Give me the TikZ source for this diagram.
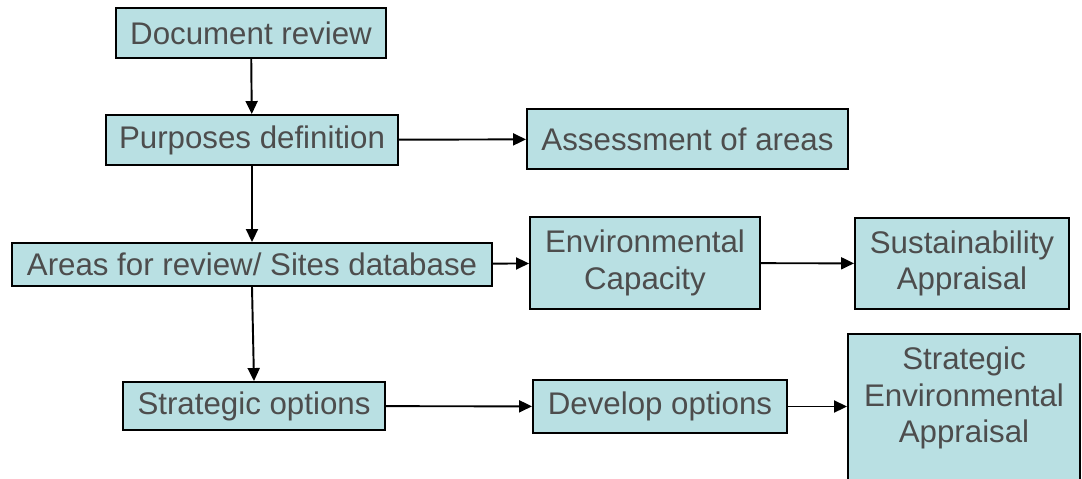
\documentclass[tikz,border=0pt]{standalone}
\usepackage{fontspec}
\setmainfont{Liberation Sans}
\usetikzlibrary{arrows.meta}
\definecolor{boxFill}{RGB}{185,224,227}
\definecolor{boxText}{RGB}{77,77,77}

\begin{document}
\begin{tikzpicture}[x=0.02cm, y=-0.02cm,
    font=\fontsize{17.8}{20.8}\selectfont,
    box/.style={draw, line width=1.1pt, fill=boxFill, text=boxText,
      inner sep=0pt, align=center},
    flow/.style={line width=1.1pt, -{Triangle[length=0.26cm, width=0.24cm]}}]

  % Page frame
  \useasboundingbox (0,0) rectangle (1082,478);
  \clip (0,0) rectangle (1082,478);

  % Boxes (centres in pixels of the original)
  \node[box, minimum width=270*0.02cm, minimum height=50*0.02cm] (doc) at (251,33) {Document review};
  \node[box, minimum width=292*0.02cm, minimum height=50*0.02cm] (purp) at (252,140) {Purposes definition};
  \node[box, minimum width=321*0.02cm, minimum height=60*0.02cm] (assess) at (687.5,139) {Assessment of areas};
  \node[box, minimum width=480*0.02cm, minimum height=43*0.02cm] (areas) at (252,264.5) {Areas for review/ Sites database};
  \node[box, minimum width=230*0.02cm, minimum height=92*0.02cm] (envcap) at (645,263) {Environmental\\Capacity};
  \node[box, minimum width=214*0.02cm, minimum height=91*0.02cm] (sust) at (962,263.5) {Sustainability\\Appraisal};
  \node[box, minimum width=262*0.02cm, minimum height=48*0.02cm] (strat) at (254,406) {Strategic options};
  \node[box, minimum width=254*0.02cm, minimum height=53*0.02cm] (dev) at (660,406.5) {Develop options};

  % Tall box running off the bottom, text at its top
  \node[box, minimum width=232*0.02cm, minimum height=170*0.02cm, anchor=north] (sea) at (964,333) {};
  \node[text=boxText, align=center, anchor=north] (seatext) at ([yshift=-0.16cm]sea.north) {Strategic\\Environmental\\Appraisal};

  % Arrows
  \draw[flow] (doc) -- (purp);
  \draw[flow] (purp) -- (areas);
  \draw[flow] (purp) -- (assess);
  \draw[flow] (areas) -- (envcap);
  \draw[flow] (envcap) -- (sust);
  \draw[flow] (areas.south) -- (strat.north);
  \draw[flow] (strat) -- (dev);
  \draw[flow] (dev.east) -- (dev.east -| sea.west);

\end{tikzpicture}
\end{document}
